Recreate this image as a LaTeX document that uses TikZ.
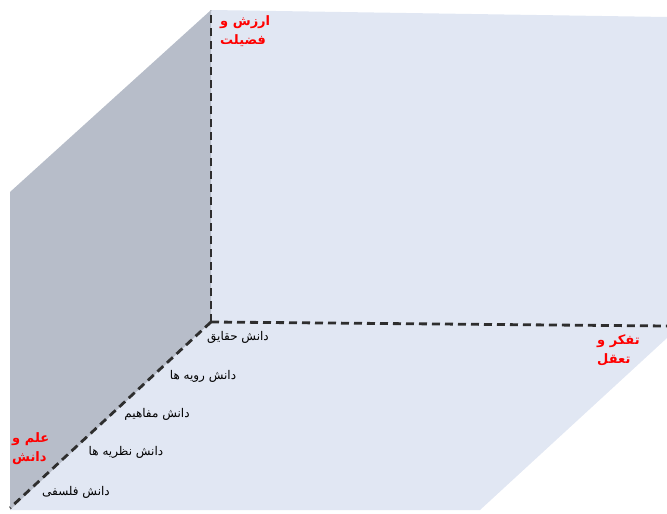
\documentclass[tikz,border=0pt]{standalone}
\usepackage{fontspec}
\newfontfamily\arabicfont[Script=Arabic]{DejaVu Sans}
\TeXXeTstate=1
\definecolor{wallblue}{HTML}{E1E7F3}
\definecolor{wallgray}{HTML}{B7BDC9}
\definecolor{dashgray}{HTML}{2E2E2E}
\begin{document}
\begin{tikzpicture}[x=1pt,y=-1pt,
  edge/.style={draw=dashgray,line width=2.8pt,dash pattern=on 8pt off 5pt},
  axislabel/.style={text=red,font=\arabicfont\bfseries\fontsize{13}{19}\selectfont,align=left,anchor=north west,inner sep=0pt},
  kind/.style={text=black,font=\arabicfont\fontsize{12}{14}\selectfont,inner sep=0pt}]
\useasboundingbox (0,0) rectangle (667,514);
% corner coordinates
\coordinate (O) at (211,322);
\coordinate (T) at (211,10);
\coordinate (R) at (667,326);
\coordinate (L) at (10,508);
% back wall
\fill[wallblue] (211,10) -- (667,17) -- (667,326) -- (211,322) -- cycle;
% floor
\fill[wallblue] (211,322) -- (667,326) -- (667,338) -- (480,510) -- (10,510) -- cycle;
% left wall
\fill[wallgray] (211,10) -- (211,322) -- (10,510) -- (10,192) -- cycle;
% dashed edges
\draw[edge] (O) -- (T);
\draw[edge] (O) -- (R);
\draw[edge] (O) -- (L);
% axis labels
\node[axislabel] (value) at (220,15) {\beginR ارزش و\endR\\\beginR فضیلت\endR};
\node[axislabel] (thought) at (597,334) {\beginR تفکر و\endR\\\beginR تعقل\endR};
\node[axislabel] (science) at (12,432) {\beginR علم و\endR\\\beginR دانش\endR};
% knowledge kinds
\node[kind] (k1) at (238,337) {\beginR دانش حقایق\endR};
\node[kind] (k2) at (203,376) {\beginR دانش رویه ها\endR};
\node[kind] (k3) at (157,414) {\beginR دانش مفاهیم\endR};
\node[kind] (k4) at (126,452) {\beginR دانش نظریه ها\endR};
\node[kind] (k5) at (76,492) {\beginR دانش فلسفی\endR};
\end{tikzpicture}
\end{document}
